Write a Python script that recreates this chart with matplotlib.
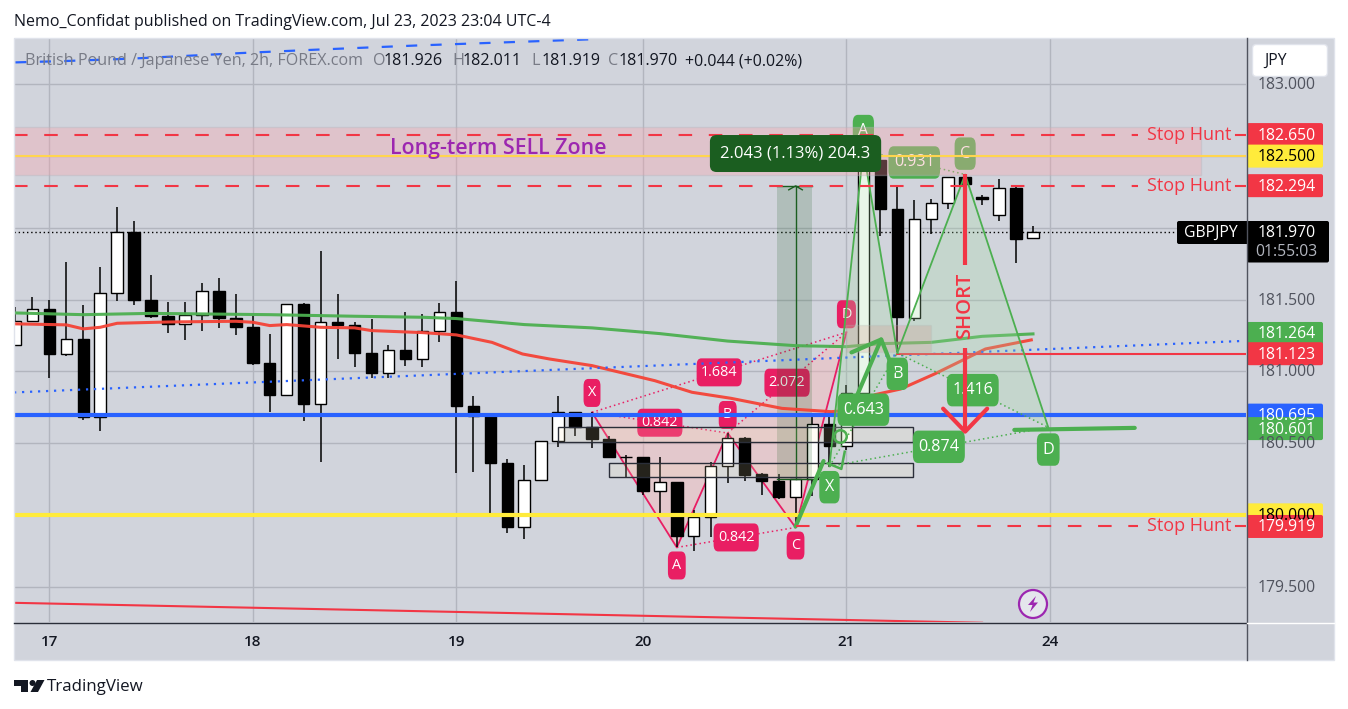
import matplotlib
matplotlib.use('Agg')
import matplotlib.pyplot as plt
from matplotlib.patches import FancyBboxPatch, Rectangle, Polygon, Circle

plt.rcParams['font.family'] = ['Open Sans', 'DejaVu Sans']

bars = list(range(-2, 59))
opens = [181.184, 181.351, 181.435, 181.119, 181.226, 180.682, 181.547, 181.972, 181.498, 181.389,
         181.328, 181.393, 181.561, 181.372, 181.312, 181.058, 180.835, 181.470, 180.773, 181.347,
         181.323, 181.128, 180.989, 181.149, 181.086, 181.282, 181.414, 180.761, 180.698, 180.363,
         179.912, 180.242, 180.514, 180.719, 180.614, 180.531, 180.405, 180.405, 180.166, 180.228,
         179.852, 179.982, 180.340, 180.538, 180.284, 180.238, 180.122, 180.249, 180.633, 180.480,
         180.847, 182.476, 182.132, 181.374, 182.063, 182.174, 182.356, 182.216, 182.091, 182.279,
         181.926]
highs = [181.447, 181.519, 181.498, 181.765, 181.465, 181.728, 182.146, 182.049, 181.672, 181.484,
         181.484, 181.616, 181.651, 181.540, 181.386, 181.261, 181.470, 181.479, 181.840, 181.540,
         181.344, 181.365, 181.186, 181.414, 181.400, 181.477, 181.630, 180.831, 180.698, 180.389,
         180.349, 180.514, 180.831, 180.719, 180.714, 180.552, 180.419, 180.405, 180.405, 180.228,
         180.033, 180.366, 180.570, 180.545, 180.294, 180.284, 180.249, 180.698, 180.698, 180.905,
         182.540, 182.500, 182.288, 182.195, 182.202, 182.356, 182.365, 182.232, 182.342, 182.286,
         182.011]
lows = [181.184, 181.351, 180.952, 181.105, 180.659, 180.582, 181.489, 181.461, 181.370, 181.265,
        181.217, 181.279, 181.300, 181.251, 181.042, 180.714, 180.835, 180.652, 180.366, 181.084,
        181.028, 180.954, 180.952, 181.035, 181.028, 181.203, 180.289, 180.301, 180.001, 179.871,
        179.829, 180.242, 180.470, 180.547, 180.463, 180.400, 180.261, 180.135, 180.001, 179.773,
        179.745, 179.843, 180.219, 180.238, 180.140, 180.112, 179.912, 180.133, 180.331, 180.452,
        180.847, 181.946, 181.133, 181.354, 181.958, 182.128, 182.304, 182.162, 182.046, 181.753,
        181.919]
closes = [181.351, 181.435, 181.119, 181.226, 180.680, 181.547, 181.972, 181.496, 181.384, 181.328,
          181.393, 181.561, 181.370, 181.307, 181.056, 180.833, 181.470, 180.770, 181.344, 181.321,
          181.126, 180.986, 181.149, 181.084, 181.282, 181.414, 180.756, 180.691, 180.359, 179.912,
          180.242, 180.514, 180.717, 180.610, 180.526, 180.400, 180.400, 180.163, 180.228, 179.850,
          179.982, 180.340, 180.535, 180.280, 180.233, 180.122, 180.249, 180.631, 180.482, 180.847,
          182.469, 182.130, 181.377, 182.063, 182.174, 182.356, 182.304, 182.199, 182.279, 181.920,
          181.970]

green_ma_x = [-2, 2, 6, 13, 18, 22, 24, 28, 32, 36, 40, 44, 47, 49, 52, 55, 58]
green_ma = [181.407, 181.395, 181.404, 181.395, 181.384, 181.377, 181.368, 181.326, 181.303,
            181.263, 181.211, 181.179, 181.172, 181.193, 181.202, 181.244, 181.261]
red_ma_x = [-2, 1, 2, 3, 4, 7, 11, 12, 13, 14, 16, 18, 19, 22, 24, 26.1, 27.9, 29.5, 32, 35.7,
            37.9, 40.2, 43.2, 46.1, 46.9, 48.7, 50.2, 52.2, 55.2, 57.9]
red_ma = [181.331, 181.324, 181.296, 181.307, 181.335, 181.344, 181.349, 181.342, 181.319, 181.326,
          181.307, 181.303, 181.284, 181.270, 181.254, 181.202, 181.121, 181.086, 181.040, 180.935,
          180.854, 180.812, 180.742, 180.719, 180.726, 180.838, 180.877, 180.982, 181.156, 181.219]
blue_top_x = [-2, 0.8, 4.8, 8.5, 11.3, 15.6, 21.7, 27.9, 32.2]
blue_top = [183.153, 183.162, 183.179, 183.201, 183.218, 183.241, 183.271, 183.297, 183.315]
blue_dot_x = [-2.08, 70.4]
blue_dot = [180.853, 181.212]
red_low_x = [-2.08, 55]
red_low = [179.387, 179.248]

red_px = [32, 37, 40, 44, 47]
red_py = [180.714, 179.773, 180.570, 179.912, 181.272]
green_px = [46, 48, 50, 54, 58.9]
green_py = [180.338, 182.539, 181.128, 182.372, 180.610]
pattern_letters = ['X', 'A', 'B', 'C', 'D']
red_ratios = ['0.842', '0.842', '2.072', '1.684']
green_ratios = ['0.643', '0.931', '1.416', '0.874']

price_ticks = [183.000, 182.500, 182.000, 181.500, 181.000, 180.500, 180.000, 179.500]
tick_labels = ['183.000', '181.500', '181.000', '180.500', '179.500']
tick_vals = [183.000, 181.500, 181.000, 180.500, 179.500]
day_bars = [0, 12, 24, 35, 47, 59]
day_labels = ['17', '18', '19', '20', '21', '24']
tag_prices = [182.650, 182.500, 182.294, 181.264, 181.123, 180.695, 180.601, 180.000, 179.919]
tag_colors = ['#f23645', '#ffeb3b', '#f23645', '#4caf50', '#f23645', '#2962ff', '#4caf50', '#ffeb3b', '#f23645']
tag_text = ['white', 'black', 'white', 'white', 'white', 'white', 'white', 'black', 'white']

BG = '#d1d4dc'
GRID = '#b2b5be'
RED = '#f23645'
GREEN = '#4caf50'
PINK = '#e91e63'
W, H = 1348, 709


def py(price):
    return 299.6 - (price - 181.5) * 143.5


def px(bar):
    return 49.3 + 16.96 * bar


fig = plt.figure(figsize=(W / 100, H / 100), dpi=100, facecolor='white')
back = fig.add_axes([14 / W, 1 - 660 / H, 1320 / W, 622 / H], facecolor=BG, zorder=-1)
back.set_xticks([])
back.set_yticks([])
for s in back.spines.values():
    s.set_visible(False)

ax = fig.add_axes([14 / W, 1 - 622 / H, 1232 / W, 584 / H], facecolor=BG)
ax.set_xlim((14 - 49.3) / 16.96, (1246 - 49.3) / 16.96)
ax.set_ylim(179.2533, 183.323)
ax.set_xticks([])
ax.set_yticks([])
for s in ax.spines.values():
    s.set_visible(False)

for p in price_ticks:
    ax.axhline(p, color=GRID, lw=1, zorder=1)
for b in day_bars:
    ax.axvline(b, color=GRID, lw=1, zorder=1)

ax.axhline(closes[-1], color='black', lw=1, ls=(0, (1, 2)), zorder=2)

# candles
ax.vlines(bars, lows, highs, color='black', lw=1.1, zorder=3)
colors = ['white' if c >= o else 'black' for o, c in zip(opens, closes)]
heights = [abs(c - o) for o, c in zip(opens, closes)]
bottoms = [min(o, c) for o, c in zip(opens, closes)]
ax.bar(bars, heights, bottom=bottoms, width=0.67, color=colors, edgecolor='black', lw=1, zorder=3.5)


def mid(xs, ys, a, b):
    return (xs[a] + xs[b]) / 2, (ys[a] + ys[b]) / 2


def draw_pattern(xs, ys, color, fill, ratios, letter_off, z, alpha, size, pad):
    box = dict(boxstyle=f'round,pad={pad},rounding_size=0.32', fc=color, ec='none', mutation_aspect=1.5)
    ax.fill(xs[:3], ys[:3], color=fill, alpha=alpha, lw=0, zorder=z)
    ax.fill(xs[2:], ys[2:], color=fill, alpha=alpha, lw=0, zorder=z)
    ax.plot(xs, ys, color=color, lw=1.3, zorder=z + 0.1)
    pts = [(0, 2), (1, 3), (2, 4), (0, 4)]
    for (a, b), r in zip(pts, ratios):
        ax.plot([xs[a], xs[b]], [ys[a], ys[b]], color=color, lw=1.1, ls=(0, (1, 2)), zorder=z + 0.1)
        mx, my = mid(xs, ys, a, b)
        ax.text(mx, my, r, color='white', fontsize=size, ha='center', va='center', zorder=z + 0.2, bbox=box)
    for x, y, l, off in zip(xs, ys, pattern_letters, letter_off):
        ax.annotate(l, (x, y), xytext=(0, off), textcoords='offset points', color='white', fontsize=size,
                    ha='center', va='center', zorder=z + 0.2, bbox=box)


draw_pattern(red_px, red_py, PINK, '#ffb6b6', red_ratios, [14, -13, 13, -13, 13], 2.5, 0.4, 10.4, 0.3)

# long position tool
ax.add_patch(Rectangle((42.9, 180.249), 2.05, 2.043, fc='#1b5e20', alpha=0.18, ec='none', zorder=4.8))
ax.plot([44, 44], [180.249, 182.292], color='#1b5e20', lw=1, zorder=4.9)
ax.plot([42.9, 44.95], [182.292, 182.292], color='#1b5e20', lw=1, zorder=4.9)
ax.plot([43.6, 44, 44.4], [182.265, 182.292, 182.265], color='#1b5e20', lw=1, zorder=4.9)
ax.plot([42.9, 44.95], [180.249, 180.249], color='#1b5e20', lw=1, zorder=4.9)

# lines
ax.plot(green_ma_x, green_ma, color=GREEN, lw=2.2, alpha=0.95, zorder=5)
ax.plot(red_ma_x, red_ma, color='#f44336', lw=2.2, alpha=0.95, zorder=5)
ax.plot(blue_dot_x, blue_dot, color='#2962ff', lw=1.6, ls=(0, (1, 2.6)), zorder=5)
ax.plot(blue_top_x, blue_top, color='#2962ff', lw=1.6, ls=(0, (5, 6)), zorder=5)
ax.plot(red_low_x, red_low, color=RED, lw=1.5, zorder=5)
ax.axhline(180.695, color='#2962ff', lw=3, zorder=5)
ax.axhline(180.000, color='#ffeb3b', lw=3, zorder=5)
ax.plot([50, 70.6], [181.123, 181.123], color=RED, lw=1.5, zorder=5)

# boxes
for x0, x1, p0, p1 in [(30, 50.9, 180.509, 180.613), (33, 50.9, 180.267, 180.358)]:
    ax.add_patch(Rectangle((x0, p0), x1 - x0, p1 - p0, fc='#fff0be', alpha=0.15, ec='none', zorder=6))
    ax.add_patch(Rectangle((x0, p0), x1 - x0, p1 - p0, fc='none', ec='#2a2e39', lw=1, zorder=6))
ax.add_patch(Rectangle((47, 181.137), 5, 0.183, fc='#e08080', alpha=0.25, ec=GRID, lw=1, zorder=6))

draw_pattern(green_px, green_py, GREEN, '#a5dca4', green_ratios, [-15, 14, -15, 15, -16], 7, 0.25, 11.6, 0.34)

# brush strokes
brush = dict(color=GREEN, lw=3, solid_capstyle='round', solid_joinstyle='round', zorder=7.6)
ax.plot([44, 45.65], [179.919, 180.375], **brush)
ax.plot([47.3, 49.05, 49.8], [180.743, 181.222, 181.0], **brush)
ax.plot([47.3, 49.05], [181.132, 181.222], **brush)
ax.plot([45.9, 46.7, 46.9], [180.359, 180.32, 180.44], color=GREEN, lw=1.8, zorder=7.6)
ax.plot([46.65], [180.55], marker='o', ms=9, mfc='none', mec=GREEN, mew=1.8, zorder=7.6)
ax.plot([56.9, 64], [180.592, 180.606], **brush)

# SELL zone and levels
ax.add_patch(Rectangle((-2.08, 182.365), 70, 0.341, fc='#fca4ac', alpha=0.35, ec=GRID, lw=1, zorder=8))
ax.axhline(182.500, color='#ffd54f', lw=1.5, zorder=8.1)
ax.text(26.5, 182.553, 'Long-term SELL Zone', color='#9c27b0', fontsize=15.4, fontweight='semibold',
        ha='center', va='center', zorder=9)
dash = (0, (6.5, 8))
stop_prices = [182.650, 182.294, 179.919]
stop_start = [-2.08, -2.08, 44]
for price, x0 in zip(stop_prices, stop_start):
    ax.plot([x0, 64.2], [price, price], color=RED, lw=1.5, ls=dash, zorder=9)
    ax.plot([70.0, 70.6], [price, price], color=RED, lw=1.5, zorder=9)
    ax.text(67.2, price, 'Stop Hunt', color=RED, fontsize=13, fontweight='medium', ha='center', va='center', zorder=9)

# short arrow
short = dict(color=RED, lw=3, solid_capstyle='butt', zorder=9)
ax.plot([54, 54], [182.372, 181.74], **short)
ax.plot([54, 54], [181.165, 180.58], **short)
ax.plot([52.7, 54, 55.3], [180.74, 180.58, 180.74], color=RED, lw=3, solid_capstyle='round', zorder=9)
ax.text(54, 181.455, 'SHORT', color=RED, fontsize=14.5, fontweight='semibold', rotation=90,
        ha='center', va='center', zorder=9)

ax.text(44, 182.518, '2.043 (1.13%) 204.3', color='white', fontsize=12, ha='center', va='center', zorder=10,
        bbox=dict(boxstyle='round,pad=0.63,rounding_size=0.4', fc='#1b5e20', ec='none'))

# everything below is the page furniture, in pixels
ov = fig.add_axes([0, 0, 1, 1], facecolor='none')
ov.set_xlim(0, W)
ov.set_ylim(H, 0)
ov.axis('off')

ov.plot([1246.5, 1246.5], [38, 660], color='#50535e', lw=1)
ov.add_patch(Rectangle((14, 38), 1320, 622, fc='none', ec='#e0e3eb', lw=1))
ov.plot([14, 1246], [622.5, 622.5], color='#2a2e39', lw=1)
ov.plot([1247, 1334], [622.5, 622.5], color='white', lw=1)

FS = 11.3
for v, t in zip(tick_vals, tick_labels):
    ov.text(1287, py(v) + 1, t, color='#50535e', fontsize=FS, ha='center', va='center')
ov.add_patch(Rectangle((1247, 39), 86, 43, fc=BG, ec='none'))
ov.add_patch(FancyBboxPatch((1252.5, 44.5), 75, 32, boxstyle='round,pad=0,rounding_size=4', fc='white', ec='#e0e3eb', lw=1))
ov.text(1264, 61, 'JPY', color='#131722', fontsize=FS, ha='left', va='center')

for p, c, tc in zip(tag_prices, tag_colors, tag_text):
    ov.add_patch(FancyBboxPatch((1247, py(p) - 11.5), 76, 23, boxstyle='round,pad=0,rounding_size=2', fc=c, ec='none'))
    ov.text(1286.5, py(p) + 1, f'{p:.3f}', color=tc, fontsize=FS, ha='center', va='center')

ov.add_patch(FancyBboxPatch((1177, 221), 72, 23, boxstyle='round,pad=0,rounding_size=2', fc='black', ec='none'))
ov.add_patch(FancyBboxPatch((1247, 221), 82, 41.5, boxstyle='round,pad=0,rounding_size=2', fc='black', ec='none'))
ov.text(1211, 233, 'GBPJPY', color='white', fontsize=FS, ha='center', va='center')
ov.text(1286.5, 233, f'{closes[-1]:.3f}', color='white', fontsize=FS, ha='center', va='center')
ov.text(1286.5, 252, '01:55:03', color='#b2b5be', fontsize=FS, ha='center', va='center')

for b, d in zip(day_bars, day_labels):
    ov.text(px(b), 641.5, d, color='#131722', fontsize=11, fontweight='semibold', ha='center', va='center')

ov.text(14, 22.5, 'Nemo_Confidat published on TradingView.com, Jul 23, 2023 23:04 UTC-4', color='#131722',
        fontsize=11.5, ha='left', va='center')
ov.text(25, 61, 'British Pound / Japanese Yen, 2h, FOREX.com', color='#787b86', fontsize=11.6, ha='left', va='center')
for x, letter, val in [(373, 'O', '181.926'), (452, 'H', '182.011'), (531, 'L', '181.919'), (608, 'C', '181.970')]:
    ov.text(x, 61, letter, color='#787b86', fontsize=11.6, ha='left', va='center')
    ov.text(x + 11, 61, val, color='#131722', fontsize=11.6, ha='left', va='center')
ov.text(685, 61, '+0.044 (+0.02%)', color='#131722', fontsize=11.5, ha='left', va='center')

# lightning badge
ov.add_patch(Circle((1033, 604), 14, fc='#e4e6ec', ec='#9c27b0', lw=1.6))
ov.add_patch(Polygon([(1036, 596), (1028, 605), (1032.5, 605), (1030, 612), (1038, 602.5), (1033.5, 602.5)],
                     fc='#9c27b0', ec='none'))

# logo
ov.add_patch(Polygon([(14, 680), (28, 680), (28, 692), (21, 692), (21, 686), (14, 686)], fc='#131722', ec='none'))
ov.add_patch(Circle((32.5, 683), 3, fc='#131722', ec='none'))
ov.add_patch(Polygon([(37, 680), (44.5, 680), (38, 692), (30.5, 692)], fc='#131722', ec='none'))
ov.text(47, 687, 'TradingView', color='#131722', fontsize=12.2, ha='left', va='center')

fig.savefig('out.png', dpi=100)
